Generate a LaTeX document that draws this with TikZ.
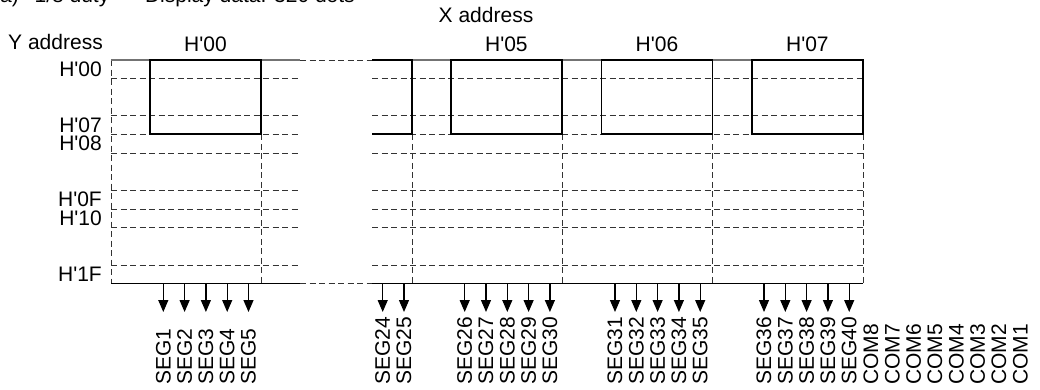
\documentclass[tikz,border=0pt]{standalone}
\usepackage{fontspec}
\setmainfont{Liberation Sans}
\usetikzlibrary{positioning}
\usetikzlibrary{arrows.meta}
\newcommand{\hx}[1]{H\textquotesingle #1}
\tikzset{>={Triangle[width=10pt,length=12pt]}}
\tikzset{lbl/.style={inner sep=0pt, font=\fontsize{21}{24}\selectfont}}
\tikzset{pinlbl/.style={lbl, rotate=90, anchor=west}}
\tikzset{grid/.style={black!80, line width=1pt, dash pattern=on 6pt off 3.5pt}}
\tikzset{topline/.style={black!55, line width=1.2pt}}
\tikzset{botline/.style={black, line width=1.5pt}}
\tikzset{boxline/.style={black, line width=1.8pt}}
\tikzset{databox/.style={draw, boxline, inner sep=0pt, minimum width=111pt, minimum height=74.3pt}}
\tikzset{pinline/.style={black, line width=1.2pt}}

\begin{document}
\begin{tikzpicture}[x=1pt,y=-1pt]
    \useasboundingbox (0,0) rectangle (1040,389);
    \clip (0,0) rectangle (1040,389);

    \node[lbl, anchor=base west] (title) at (-7,2) {(a)\hspace{0.75em}1/8 duty\hspace{1.7em}Display data: 320 dots};
    \node[lbl, anchor=base] (xaddr) at (486,22) {X address};
    \node[lbl, anchor=base east] (yaddr) at (103,49) {Y address};

    \coordinate (tl) at (111,60);
    \coordinate (tr) at (863,60);
    \coordinate (bl) at (111,283.3);
    \coordinate (br) at (863,283.3);
    \coordinate (gtl) at (300,60);
    \coordinate (gtr) at (372,60);
    \coordinate (gbl) at (300,283.3);
    \coordinate (gbr) at (372,283.3);

    % rows and columns
    \foreach \y in {78.7,115.7,134.3,153,190.3,209,227.7,265}{
        \draw[grid] (111,\y) -- (300,\y);
        \draw[grid] (372,\y) -- (863,\y);
    }
    \foreach \x in {261,412,562,712.7,863}
        \draw[grid] (\x,134.3) -- (\x,283.3);
    \draw[grid] (tl) -- (bl);

    \draw[topline] (tl) -- (gtl);
    \draw[topline] (gtr) -- (tr);
    \draw[grid] (gtl) -- (gtr);
    \draw[botline] (bl) -- (gbl);
    \draw[botline] (gbr) -- (br);
    \draw[grid] (gbl) -- (gbr);

    % data boxes
    \node[databox] (b0) at (205.5,97.15) {};
    \node[databox] (b5) at (506.35,97.15) {};
    \node[databox] (b6) at (657,97.15) {};
    \node[databox] (b7) at (807.35,97.15) {};
    \draw[boxline] (gtr) -| (412,134.3) -- (372,134.3);

    \node[lbl, above=7pt of b0] (h0) {\hx{00}};
    \node[lbl, above=7pt of b5] (h5) {\hx{05}};
    \node[lbl, above=7pt of b6] (h6) {\hx{06}};
    \node[lbl, above=7pt of b7] (h7) {\hx{07}};

    % Y addresses
    \node[lbl, anchor=east] (y00) at (102,69.3) {\hx{00}};
    \node[lbl, anchor=east] (y07) at (102,125) {\hx{07}};
    \node[lbl, anchor=east] (y08) at (102,143.7) {\hx{08}};
    \node[lbl, anchor=east] (y0F) at (102,199.7) {\hx{0F}};
    \node[lbl, anchor=east] (y10) at (102,218.3) {\hx{10}};
    \node[lbl, anchor=east] (y1F) at (102,274.2) {\hx{1F}};

    % segment pins
    \foreach \n/\x in {1/163.3,2/184.6,3/205.9,4/227.2,5/248.5,24/382.7,25/404,
        26/464.7,27/486,28/507.3,29/528.6,30/549.9,31/615,32/636.3,33/657.6,
        34/678.9,35/700.2,36/764,37/785.3,38/806.6,39/827.9,40/849.2}{
        \coordinate (p\n) at (\x,283.3);
        \coordinate (t\n) at (\x,312);
        \draw[pinline,->] (p\n) -- (t\n);
        \node[pinlbl] (s\n) at (\x,385) {SEG\n};
    }
    \foreach \i in {1,...,8}
        \node[pinlbl] (c\i) at ({871+21.33*(8-\i)},385) {COM\i};
\end{tikzpicture}
\end{document}
